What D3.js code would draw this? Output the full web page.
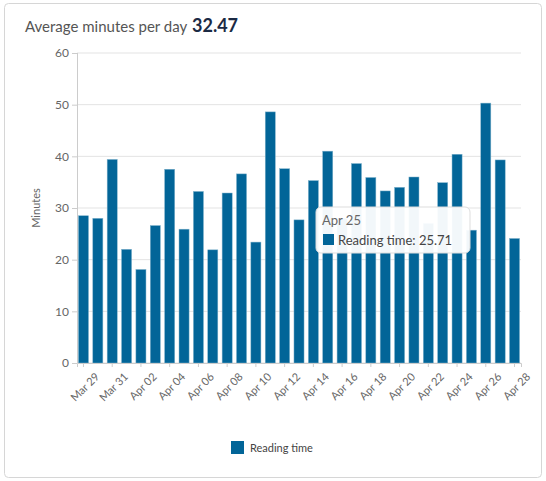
<!DOCTYPE html>
<html><head><meta charset="utf-8">
<script src="https://cdn.jsdelivr.net/npm/d3@7"></script>
<style>
body{margin:0;background:#fff;font-family:Lato,"Open Sans",sans-serif;}
</style></head><body>
<svg id="chart" width="546" height="481"></svg>
<script>
const labels = ["Mar 29","Mar 30","Mar 31","Apr 01","Apr 02","Apr 03","Apr 04","Apr 05","Apr 06","Apr 07","Apr 08","Apr 09","Apr 10","Apr 11","Apr 12","Apr 13","Apr 14","Apr 15","Apr 16","Apr 17","Apr 18","Apr 19","Apr 20","Apr 21","Apr 22","Apr 23","Apr 24","Apr 25","Apr 26","Apr 27","Apr 28"];
const minutes = [28.5,28,39.4,22,18.1,26.6,37.5,25.9,33.2,21.9,32.9,36.6,23.4,48.6,37.6,27.7,35.3,41.0,28,38.6,35.9,33.3,34.0,36.0,27,34.9,40.4,25.71,50.3,39.3,24.1];
const yTicks = [0,10,20,30,40,50,60];
const average = "32.47";
const seriesName = "Reading time";
const hoverIndex = 27;

let svg = d3.select("#chart");
svg.append("rect").attr("x",4.5).attr("y",3.5).attr("width",537).attr("height",474)
  .attr("rx",4).attr("fill","#fff").attr("stroke","#d6d6d6");

svg.append("text").attr("x",25).attr("y",32).attr("font-size",15).attr("fill","#555")
  .text("Average minutes per day");
svg.append("text").attr("x",192).attr("y",32).attr("font-size",18).attr("font-weight","bold")
  .attr("fill","#1b2a44").text(average);

let x = d3.scaleBand().domain(labels).range([77,521]).paddingInner(0.3).paddingOuter(0.1);
let y = d3.scaleLinear().domain([0,60]).range([363,53]);

// gridlines
svg.append("g").selectAll("line").data(yTicks).enter().append("line")
  .attr("x1",77).attr("x2",521).attr("y1",d=>y(d)).attr("y2",d=>y(d))
  .attr("stroke","#e3e3e3");
svg.append("line").attr("x1",77.5).attr("x2",77.5).attr("y1",53).attr("y2",363).attr("stroke","#ccc");

let yAxis = svg.append("g").attr("transform","translate(77,0)")
  .call(d3.axisLeft(y).tickValues(yTicks).tickSize(5).tickPadding(3));
yAxis.select(".domain").remove();
yAxis.selectAll("line").attr("stroke","#ccc");
yAxis.selectAll("text").attr("font-size",12).attr("fill","#666").attr("font-family","Lato,sans-serif");

svg.append("text").attr("transform","translate(40,208) rotate(-90)").attr("text-anchor","middle")
  .attr("font-size",11).attr("fill","#666").text("Minutes");

svg.append("g").selectAll("rect").data(minutes).enter().append("rect")
  .attr("x",(d,i)=>x(labels[i])).attr("y",d=>y(d))
  .attr("width",x.bandwidth()).attr("height",d=>363-y(d))
  .attr("fill","#026598").attr("stroke","#7fb2cc").attr("stroke-width",0.5);

let xAxis = svg.append("g").attr("transform","translate(0,363)")
  .call(d3.axisBottom(x).tickValues(labels.filter((d,i)=>i%2==0)).tickSize(4));
xAxis.select(".domain").attr("stroke","#ccc");
xAxis.selectAll("line").attr("stroke","#ccc");
xAxis.selectAll("text").attr("font-size",11).attr("fill","#666").attr("font-family","Lato,sans-serif")
  .attr("text-anchor","end").attr("transform","translate(6,4) rotate(-45)");

// legend
svg.append("rect").attr("x",231).attr("y",441).attr("width",13).attr("height",13).attr("fill","#026598");
svg.append("text").attr("x",250).attr("y",452).attr("font-size",11).attr("fill","#444").text(seriesName);

// tooltip
let tg = svg.append("g").attr("transform","translate(316,207)");
tg.append("rect").attr("width",154).attr("height",46).attr("rx",5)
  .attr("fill","rgba(255,255,255,0.95)").attr("stroke","#ddd");
tg.append("text").attr("x",6).attr("y",18).attr("font-size",13).attr("fill","#666").text(labels[hoverIndex]);
tg.append("rect").attr("x",7).attr("y",27).attr("width",11).attr("height",11).attr("fill","#026598");
tg.append("text").attr("x",22).attr("y",38).attr("font-size",13).attr("fill","#444")
  .text(seriesName+": "+minutes[hoverIndex]);
</script></body></html>
